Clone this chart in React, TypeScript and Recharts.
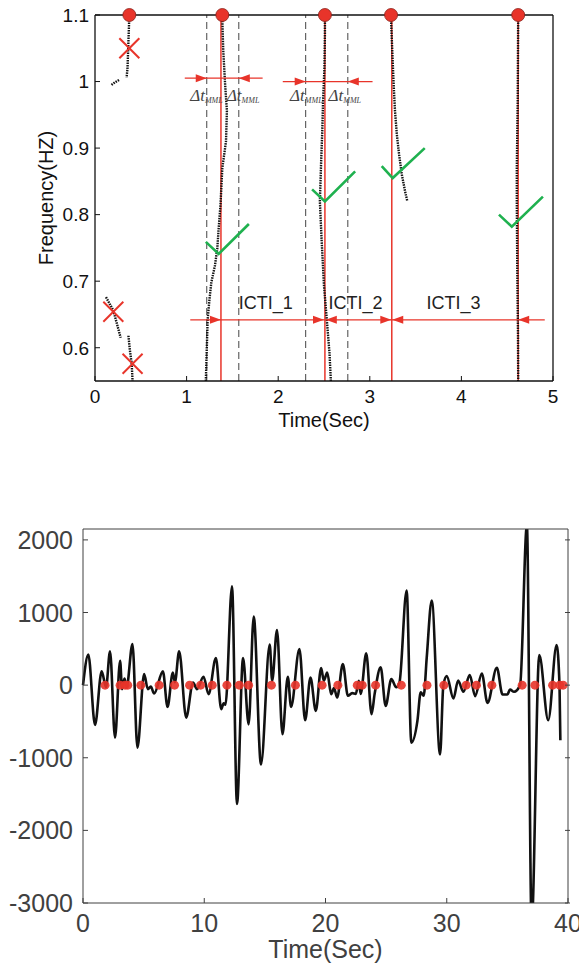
import React from "react";
import { ComposedChart, Line, Scatter, XAxis, YAxis, ReferenceLine } from "recharts";

const RED = "#e8342a";
const GREEN = "#1fb14f";
const SANS = "'Liberation Sans', Arial, Helvetica, sans-serif";
const SERIF = "'Liberation Serif', 'DejaVu Serif', serif";

// ---- top panel: frequency ridges ----
const timeTicks = [0, 1, 2, 3, 4, 5];
const freqTicks = [0.6, 0.7, 0.8, 0.9, 1, 1.1];

const ridgeTop = [
  { x: 0.375, y: 1.1 }, { x: 0.37, y: 1.08 }, { x: 0.365, y: 1.06 }, { x: 0.36, y: 1.04 },
  { x: 0.355, y: 1.02 }, { x: 0.345, y: 1.006 },
];
const ridgeTopTail = [{ x: 0.18, y: 0.995 }, { x: 0.22, y: 0.999 }, { x: 0.27, y: 1.003 }];
const ridgeLowA = [
  { x: 0.12, y: 0.676 }, { x: 0.16, y: 0.666 }, { x: 0.2, y: 0.656 }, { x: 0.245, y: 0.633 }, { x: 0.28, y: 0.615 },
];
const ridgeLowB = [
  { x: 0.365, y: 0.618 }, { x: 0.38, y: 0.597 }, { x: 0.4, y: 0.577 }, { x: 0.41, y: 0.55 },
];
const ridge1 = [
  { x: 1.21, y: 0.55 }, { x: 1.22, y: 0.597 }, { x: 1.23, y: 0.643 }, { x: 1.25, y: 0.673 },
  { x: 1.27, y: 0.698 }, { x: 1.31, y: 0.724 }, { x: 1.335, y: 0.749 }, { x: 1.35, y: 0.779 },
  { x: 1.37, y: 0.815 }, { x: 1.39, y: 0.87 }, { x: 1.43, y: 0.91 }, { x: 1.44, y: 0.956 },
  { x: 1.42, y: 0.997 }, { x: 1.4, y: 1.047 }, { x: 1.39, y: 1.092 }, { x: 1.385, y: 1.1 },
];
const ridge2 = [
  { x: 2.575, y: 0.55 }, { x: 2.56, y: 0.592 }, { x: 2.53, y: 0.643 }, { x: 2.5, y: 0.693 },
  { x: 2.475, y: 0.759 }, { x: 2.455, y: 0.82 }, { x: 2.47, y: 0.885 }, { x: 2.48, y: 0.921 },
  { x: 2.49, y: 0.971 }, { x: 2.505, y: 1.022 }, { x: 2.51, y: 1.072 }, { x: 2.51, y: 1.1 },
];
const ridge3 = [
  { x: 3.23, y: 1.1 }, { x: 3.245, y: 1.047 }, { x: 3.26, y: 0.997 }, { x: 3.275, y: 0.956 },
  { x: 3.295, y: 0.921 }, { x: 3.32, y: 0.89 }, { x: 3.35, y: 0.86 }, { x: 3.385, y: 0.835 }, { x: 3.41, y: 0.82 },
];
const ridge4 = [
  { x: 4.62, y: 1.1 }, { x: 4.615, y: 0.971 }, { x: 4.605, y: 0.87 }, { x: 4.605, y: 0.82 },
  { x: 4.61, y: 0.719 }, { x: 4.618, y: 0.618 }, { x: 4.62, y: 0.55 },
];
const ridges = [ridgeTop, ridgeTopTail, ridgeLowA, ridgeLowB, ridge1, ridge2, ridge3, ridge4];

const peakTimes = [1.375, 2.51, 3.24, 4.62];
const windowEdges = [1.22, 1.57, 2.3, 2.76];
const peakDots = [
  { x: 0.375, y: 1.1 }, { x: 1.39, y: 1.1 }, { x: 2.51, y: 1.1 }, { x: 3.232, y: 1.1 }, { x: 4.62, y: 1.1 },
];
const rejected = [{ x: 0.375, y: 1.05 }, { x: 0.2, y: 0.654 }, { x: 0.41, y: 0.576 }];
const check1 = [{ x: 1.21, y: 0.759 }, { x: 1.35, y: 0.741 }, { x: 1.68, y: 0.786 }];
const check2 = [{ x: 2.37, y: 0.838 }, { x: 2.51, y: 0.82 }, { x: 2.84, y: 0.865 }];
const check3 = [{ x: 3.13, y: 0.873 }, { x: 3.25, y: 0.855 }, { x: 3.6, y: 0.9 }];
const check4 = [{ x: 4.41, y: 0.8 }, { x: 4.55, y: 0.782 }, { x: 4.89, y: 0.827 }];
const checks = [check1, check2, check3, check4];

const mmlSpan1 = [{ x: 0.98, y: 1.005 }, { x: 1.83, y: 1.005 }];
const mmlSpan2 = [{ x: 2.05, y: 1.0 }, { x: 3.03, y: 1.0 }];
const ictiSpan = [{ x: 1.04, y: 0.642 }, { x: 4.91, y: 0.642 }];
const arrowHeads = [
  { x: 1.22, y: 1.005, dir: 1 }, { x: 1.57, y: 1.005, dir: -1 },
  { x: 2.3, y: 1.0, dir: 1 }, { x: 2.76, y: 1.0, dir: -1 },
  { x: 1.375, y: 0.642, dir: 1 }, { x: 2.5, y: 0.642, dir: 1 }, { x: 2.52, y: 0.642, dir: -1 },
  { x: 3.235, y: 0.642, dir: 1 }, { x: 3.245, y: 0.642, dir: -1 }, { x: 4.62, y: 0.642, dir: -1 },
];
const deltaLabels = [
  { x: 1.04, y: 0.971 }, { x: 1.44, y: 0.971 }, { x: 2.13, y: 0.971 }, { x: 2.55, y: 0.971 },
];
const ictiLabels = [
  { x: 1.57, y: 0.658, text: "ICTI_1" }, { x: 2.55, y: 0.658, text: "ICTI_2" }, { x: 3.62, y: 0.658, text: "ICTI_3" },
];

// ---- bottom panel: waveform ----
const sigTicksX = [0, 10, 20, 30, 40];
const sigTicksY = [-3000, -2000, -1000, 0, 1000, 2000];
const sigTime = [
  0, 0.44, 0.99, 1.54, 1.9, 2.23, 2.64, 3.06, 3.22, 3.42, 3.6, 4.08, 4.49, 5.04, 5.35, 5.59, 5.87,
  6.59, 6.97, 7.41, 7.58, 7.93, 8.51, 9.07, 9.4, 9.94, 10.36, 10.96, 11.4, 11.6, 11.75, 12.29, 12.7,
  13.2, 13.66, 14.08, 14.68, 15.4, 15.6, 16.0, 16.45, 16.89, 17.16, 17.85, 18.32, 18.76, 19.2, 19.64,
  19.86, 20.14, 20.47, 20.7, 20.96, 21.43, 21.85, 22.2, 22.5, 22.75, 22.9, 23.36, 23.8, 24.05, 24.55,
  24.96, 25.43, 25.84, 26.1, 26.69, 27.08, 27.58, 27.85, 28.1, 28.35, 28.76, 29.45, 29.72, 30.0, 30.55,
  30.94, 31.37, 31.9, 32.34, 32.89, 33.36, 34.13, 34.6, 35.0, 35.22, 35.55, 36.05, 36.61, 37.0, 37.63,
  38.37, 39.06, 39.3, 39.37,
];
const sigValue = [
  0, 420, -548, 190, -30, 465, -723, 336, -55, 90, -30, 567, -862, 152, -55, -20, -115,
  190, -300, 175, 40, 465, -447, 37, -55, 115, -124, 373, -332, -250, -270, 1360, -1636,
  373, -540, 945, -1092, 558, 60, 760, -677, 115, -300, 498, -484, 106, -355, 235,
  60, 175, -124, -40, -170, 290, -147, -110, -120, 60, -120, 438, -400, -124, 244,
  -285, 83, -30, 37, 1304, -793, -493, -100, -145, 382, 1166, -954, 0, 124, -184,
  64, -92, 138, -152, 161, -244, 239, -129, -129, -60, -92, 0, 2200, -3300, 414,
  -483, 552, 0, -760,
];
const eventTimes = [
  1.82, 3.06, 3.47, 3.69, 4.77, 6.28, 7.55, 8.79, 9.7, 10.66, 11.87, 12.89, 13.66, 15.54, 17.52,
  19.72, 21.02, 22.62, 23.03, 24.13, 26.25, 28.37, 29.76, 31.6, 32.45, 33.72, 36.22, 37.27, 38.73,
  39.32, 39.6,
];

const signal = sigTime.map((t, i) => ({ x: t, y: sigValue[i] }));
const events = eventTimes.map((t) => ({ x: t, y: 0 }));

// inward ticks (MATLAB style): draw tick line + label ourselves
const tickBottom = (color: string, size: number, margin: number, len: number) => (p: any) => (
  <g>
    <line x1={p.x} x2={p.x} y1={p.y - margin} y2={p.y - margin - len} stroke={color} />
    <text x={p.x} y={p.y} dy="0.72em" textAnchor="middle" fontSize={size} fill={color} fontFamily={SANS}>
      {p.payload.value}
    </text>
  </g>
);
const tickLeft = (color: string, size: number, margin: number, len: number) => (p: any) => (
  <g>
    <line x1={p.x + margin} x2={p.x + margin + len} y1={p.y} y2={p.y} stroke={color} />
    <text x={p.x} y={p.y} dy="0.36em" textAnchor="end" fontSize={size} fill={color} fontFamily={SANS}>
      {p.payload.value}
    </text>
  </g>
);
// top axis has height 1, right axis width 1 -> line sits 1px off the tick anchor
const tickTop = (color: string, len: number) => (p: any) => (
  <line x1={p.x} x2={p.x} y1={p.y + 1} y2={p.y + 1 + len} stroke={color} />
);
const tickRight = (color: string, len: number) => (p: any) => (
  <line x1={p.x} x2={p.x - len} y1={p.y} y2={p.y} stroke={color} />
);

const Arrow = (p: any) => {
  const d = p.payload.dir;
  const { cx, cy } = p;
  return <polygon points={`${cx},${cy} ${cx - d * 11},${cy - 4} ${cx - d * 11},${cy + 4}`} fill={RED} />;
};
const Cross = (p: any) => (
  <g stroke={RED} strokeWidth={2}>
    <line x1={p.cx - 10} y1={p.cy - 10} x2={p.cx + 10} y2={p.cy + 10} />
    <line x1={p.cx - 10} y1={p.cy + 10} x2={p.cx + 10} y2={p.cy - 10} />
  </g>
);
const DeltaText = (p: any) => (
  <text x={p.cx} y={p.cy} fontFamily={SERIF} fontStyle="italic" fill="#444" fontSize={17}>
    <tspan>Δt</tspan>
    <tspan fontSize={8} dy={2}>MML</tspan>
  </text>
);
const IctiText = (p: any) => (
  <text x={p.cx} y={p.cy} fontFamily={SANS} fill="#222" fontSize={18}>
    {p.payload.text}
  </text>
);
const PeakDot = (p: any) => <circle cx={p.cx} cy={p.cy} r={6.5} fill={RED} stroke="#8a1f18" strokeWidth={0.8} />;
const EventDot = (p: any) => <circle cx={p.cx} cy={p.cy} r={4.5} fill={RED} fillOpacity={0.9} />;

function RidgeChart() {
  const ax = "#111";
  return (
    <ComposedChart width={579} height={440} margin={{ top: 14, right: 25, bottom: 0, left: 0 }}>
      <XAxis
        dataKey="x" type="number" domain={[0, 5]} ticks={timeTicks} interval={0} height={59}
        tickSize={0} tickLine={false} tickMargin={8} axisLine={{ stroke: ax, strokeWidth: 1.3 }}
        tick={tickBottom(ax, 19, 8, 5)}
        label={{
          content: (p: any) => (
            <text x={p.viewBox.x + p.viewBox.width / 2} y={p.viewBox.y + 46} textAnchor="middle" fontSize={20} fontFamily={SANS} fill={ax}>
              Time(Sec)
            </text>
          ),
        }}
      />
      <XAxis
        xAxisId="top" orientation="top" dataKey="x" type="number" domain={[0, 5]} ticks={timeTicks}
        interval={0} height={1} tickSize={0} tickLine={false} axisLine={{ stroke: ax, strokeWidth: 1.3 }}
        tick={tickTop(ax, 5)}
      />
      <YAxis
        dataKey="y" type="number" domain={[0.55, 1.1]} ticks={freqTicks} interval={0} width={95}
        tickSize={0} tickLine={false} tickMargin={6} axisLine={{ stroke: ax, strokeWidth: 1.3 }}
        tick={tickLeft(ax, 19, 6, 5)}
        label={{
          content: (p: any) => {
            const cx = 53;
            const cy = p.viewBox.y + p.viewBox.height / 2;
            return (
              <text x={cx} y={cy} transform={`rotate(-90 ${cx} ${cy})`} textAnchor="middle" fontSize={20} fontFamily={SANS} fill={ax}>
                Frequency(HZ)
              </text>
            );
          },
        }}
      />
      <YAxis
        yAxisId="right" orientation="right" dataKey="y" type="number" domain={[0.55, 1.1]} ticks={freqTicks}
        interval={0} width={1} tickSize={0} tickLine={false} axisLine={{ stroke: ax, strokeWidth: 1.3 }}
        tick={tickRight(ax, 5)}
      />

      {windowEdges.map((t) => (
        <ReferenceLine key={"w" + t} x={t} stroke="#444" strokeWidth={1} strokeDasharray="7 4" />
      ))}
      {peakTimes.map((t) => (
        <ReferenceLine key={"p" + t} x={t} stroke={RED} strokeWidth={1.5} />
      ))}

      {ridges.map((r, i) => (
        <Line key={"r" + i} data={r} dataKey="y" type="linear" stroke="#111" strokeWidth={2.4}
          strokeDasharray="1.5 1" dot={false} isAnimationActive={false} />
      ))}
      {[mmlSpan1, mmlSpan2, ictiSpan].map((s, i) => (
        <Line key={"s" + i} data={s} dataKey="y" type="linear" stroke={RED} strokeWidth={1.2}
          dot={false} isAnimationActive={false} />
      ))}
      {checks.map((c, i) => (
        <Line key={"c" + i} data={c} dataKey="y" type="linear" stroke={GREEN} strokeWidth={2.6}
          dot={false} isAnimationActive={false} />
      ))}
      <Scatter data={arrowHeads} dataKey="y" shape={Arrow} isAnimationActive={false} />
      <Scatter data={rejected} dataKey="y" shape={Cross} isAnimationActive={false} />
      <Scatter data={peakDots} dataKey="y" shape={PeakDot} isAnimationActive={false} />
      <Scatter data={deltaLabels} dataKey="y" shape={DeltaText} isAnimationActive={false} />
      <Scatter data={ictiLabels} dataKey="y" shape={IctiText} isAnimationActive={false} />
    </ComposedChart>
  );
}

function SignalChart() {
  const ax = "#404040";
  return (
    <ComposedChart width={579} height={468} margin={{ top: 28, right: 10, bottom: 0, left: 0 }}>
      <XAxis
        dataKey="x" type="number" domain={[0, 40]} ticks={sigTicksX} interval={0} height={65}
        tickSize={0} tickLine={false} tickMargin={11} axisLine={{ stroke: ax }}
        tick={tickBottom(ax, 25, 11, 5)}
        label={{
          content: (p: any) => (
            <text x={p.viewBox.x + p.viewBox.width / 2} y={p.viewBox.y + 55} textAnchor="middle" fontSize={25} fontFamily={SANS} fill={ax}>
              Time(Sec)
            </text>
          ),
        }}
      />
      <XAxis
        xAxisId="top" orientation="top" dataKey="x" type="number" domain={[0, 40]} ticks={sigTicksX}
        interval={0} height={1} tickSize={0} tickLine={false} axisLine={{ stroke: ax }}
        tick={tickTop(ax, 5)}
      />
      <YAxis
        dataKey="y" type="number" domain={[-3000, 2150]} allowDataOverflow ticks={sigTicksY} interval={0}
        width={83} tickSize={0} tickLine={false} tickMargin={10} axisLine={{ stroke: ax }}
        tick={tickLeft(ax, 25, 10, 5)}
      />
      <YAxis
        yAxisId="right" orientation="right" dataKey="y" type="number" domain={[-3000, 2150]} allowDataOverflow
        ticks={sigTicksY} interval={0} width={1} tickSize={0} tickLine={false} axisLine={{ stroke: ax }}
        tick={tickRight(ax, 5)}
      />
      <Line data={signal} dataKey="y" type="monotone" stroke="#111" strokeWidth={2.6} dot={false} isAnimationActive={false} />
      <Scatter data={events} dataKey="y" shape={EventDot} isAnimationActive={false} />
    </ComposedChart>
  );
}

export default function App() {
  return (
    <div style={{ position: "absolute", left: 0, top: 0, width: 579, height: 968, background: "#fff" }}>
      <div style={{ position: "absolute", left: 0, top: 0 }}>
        <RidgeChart />
      </div>
      <div style={{ position: "absolute", left: 0, top: 500 }}>
        <SignalChart />
      </div>
    </div>
  );
}
